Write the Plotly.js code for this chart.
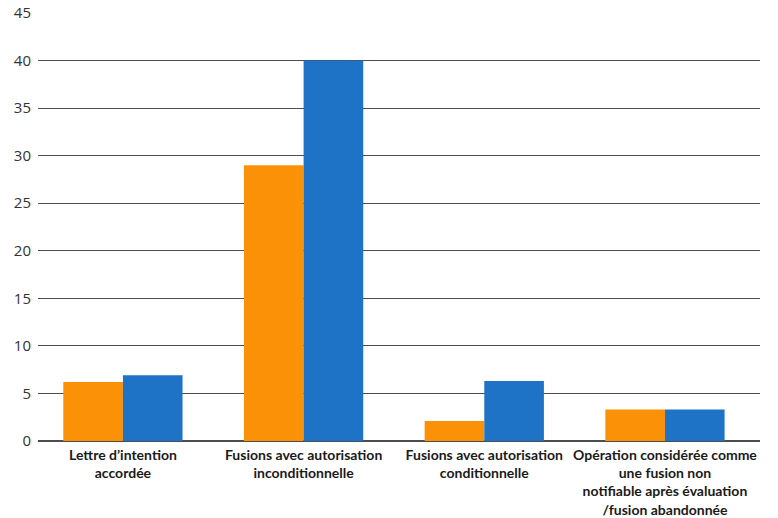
<!DOCTYPE html>
<html>
<head>
<meta charset="utf-8">
<script src="https://cdn.plot.ly/plotly-3.0.1.min.js"></script>
<style>
  html, body { margin: 0; padding: 0; background: #ffffff; }
  #chart { width: 778px; height: 518px; }
</style>
</head>
<body>
<div id="chart"></div>
<script>
// Categories (multi-line labels)
const categories = [
  "Lettre d’intention<br>accordée",
  "Fusions avec autorisation<br>inconditionnelle",
  "Fusions avec autorisation<br>conditionnelle",
  "Opération considérée comme<br>une fusion non<br>notifiable après évaluation<br>/fusion abandonnée"
];

// Two series
const seriesOrange = [6.2, 29, 2.1, 3.3];
const seriesBlue = [6.9, 40, 6.3, 3.3];

// Y-axis ticks
const yTicks = [0, 5, 10, 15, 20, 25, 30, 35, 40, 45];

const xIdx = categories.map((_, i) => i);

const traces = [
  {
    type: "bar",
    x: xIdx,
    y: seriesOrange,
    marker: { color: "#FA9106" },
    hoverinfo: "skip"
  },
  {
    type: "bar",
    x: xIdx,
    y: seriesBlue,
    marker: { color: "#1F73C7" },
    hoverinfo: "skip"
  }
];

const layout = {
  width: 778,
  height: 518,
  margin: { l: 38, r: 18, t: 13, b: 77 },
  paper_bgcolor: "#ffffff",
  plot_bgcolor: "#ffffff",
  showlegend: false,
  barmode: "group",
  bargap: 0.34,
  bargroupgap: 0,
  font: { family: "Lato, 'Open Sans', sans-serif", color: "#222" },
  xaxis: {
    tickmode: "array",
    tickvals: xIdx,
    ticktext: categories,
    range: [-0.47, 3.526],
    showgrid: false,
    zeroline: false,
    showline: false,
    ticks: "",
    tickangle: 0,
    ticklabelstandoff: 4,
    tickfont: { family: "Lato, sans-serif", size: 14, color: "#1a1a1a", weight: "bold" }
  },
  yaxis: {
    range: [0, 45],
    tickmode: "array",
    tickvals: yTicks,
    ticktext: yTicks.map(String),
    showgrid: true,
    gridcolor: "#4d4d4d",
    gridwidth: 1.2,
    zeroline: true,
    zerolinecolor: "#4d4d4d",
    zerolinewidth: 1.2,
    showline: false,
    ticks: "",
    ticklabelstandoff: 6,
    tickfont: { family: "'Open Sans', sans-serif", size: 15, color: "#333" }
  }
};

Plotly.newPlot("chart", traces, layout, { staticPlot: true, displayModeBar: false });
</script>
</body>
</html>
